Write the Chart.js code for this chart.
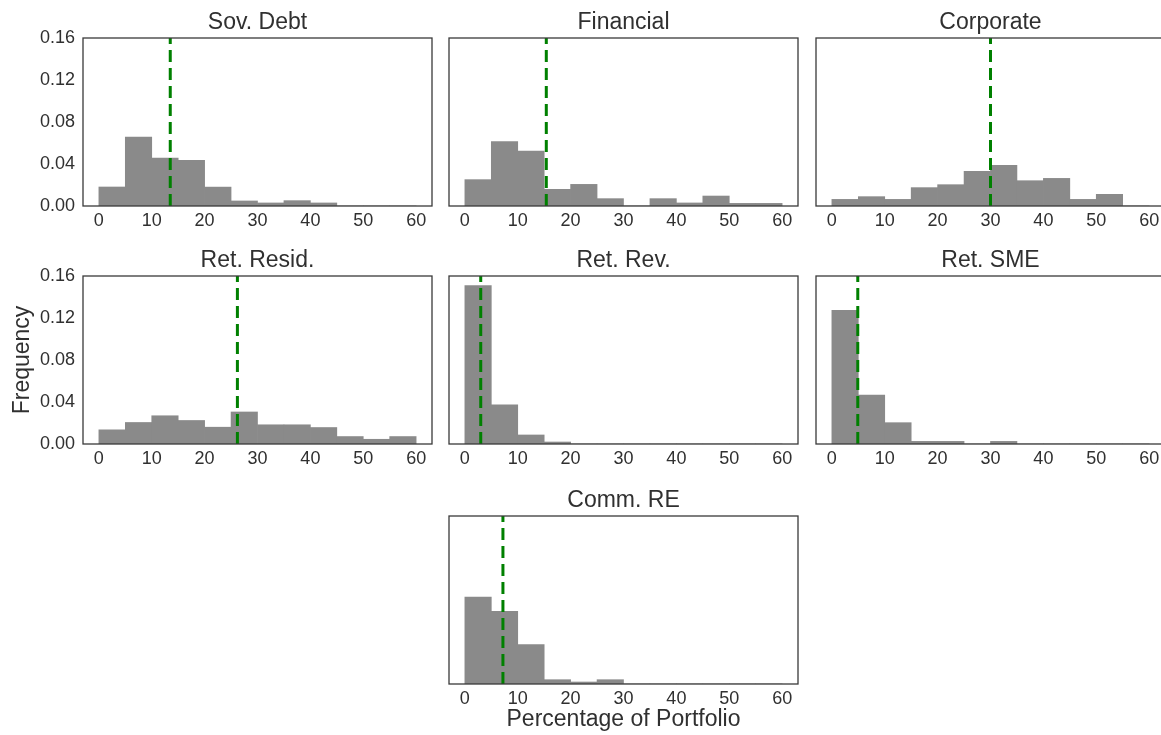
<!DOCTYPE html>
<html>
<head>
<meta charset="utf-8">
<script src="https://cdn.jsdelivr.net/npm/chart.js@4.4.1/dist/chart.umd.min.js"></script>
<style>
  html, body { margin: 0; padding: 0; background: #ffffff; }
  #fig { position: relative; width: 1161px; height: 735px; overflow: hidden; background: #ffffff; }
  #fig canvas { position: absolute; }
</style>
</head>
<body>
<div id="fig"></div>
<script>
// Histogram bins: 5-point wide bins from 0 to 60 (bin centres)
const BIN_CENTERS = [2.5, 7.5, 12.5, 17.5, 22.5, 27.5, 32.5, 37.5, 42.5, 47.5, 52.5, 57.5];
const X_TICKS = [0, 10, 20, 30, 40, 50, 60];
const Y_TICKS = [0, 0.04, 0.08, 0.12, 0.16];

const PANEL_TITLES = ['Sov. Debt', 'Financial', 'Corporate', 'Ret. Resid.', 'Ret. Rev.', 'Ret. SME', 'Comm. RE'];

// Density of each bin, per exposure class
const SOV_DEBT  = [0.0181, 0.0657, 0.0457, 0.0435, 0.0180, 0.0048, 0.0029, 0.0051, 0.0029, 0, 0, 0];
const FINANCIAL = [0.0251, 0.0613, 0.0524, 0.0159, 0.0206, 0.0070, 0, 0.0070, 0.0029, 0.0095, 0.0025, 0.0025];
const CORPORATE = [0.0063, 0.0089, 0.0063, 0.0175, 0.0203, 0.0330, 0.0387, 0.0241, 0.0263, 0.0063, 0.0111, 0];
const RET_RESID = [0.0135, 0.0205, 0.0269, 0.0224, 0.0160, 0.0305, 0.0183, 0.0183, 0.0157, 0.0071, 0.0045, 0.0071];
const RET_REV   = [0.1508, 0.0372, 0.0086, 0.0019, 0, 0, 0, 0, 0, 0, 0, 0];
const RET_SME   = [0.1273, 0.0467, 0.0203, 0.0025, 0.0025, 0, 0.0025, 0, 0, 0, 0, 0];
const COMM_RE   = [0.0827, 0.0693, 0.0375, 0.0041, 0.0019, 0.0041, 0, 0, 0, 0, 0, 0];

// Vertical dashed marker per class (average share of portfolio)
const MARKER_VALUES = [13.5, 15.4, 30.0, 26.2, 3.0, 4.9, 7.2];

const SERIES = [SOV_DEBT, FINANCIAL, CORPORATE, RET_RESID, RET_REV, RET_SME, COMM_RE];

// ---- layout of the 3x3 grid (row, column) ----
const CELLS = [[0, 0], [0, 1], [0, 2], [1, 0], [1, 1], [1, 2], [2, 1]];
const COL_LEFT = [83, 449, 816];
const ROW_TOP = [38, 276, 516];
const PLOT_W = 349, PLOT_H = 168;
const Y_AXIS_W = 83, TITLE_H = 30, X_AXIS_H = 34, X_AXIS_H_TITLED = 52, RIGHT_PAD = 8;

const FONT = "'Liberation Sans', Arial, 'DejaVu Sans', sans-serif";
const TEXT = '#303030';
const EDGE = '#3a3a3a';
const BAR = '#8a8a8a';
const MARK = '#008000';
const TICK_SIZE = 18;
const LABEL_SIZE = 23;

const framePlugin = {
  id: 'frame',
  afterDatasetsDraw(chart) {
    const { ctx, chartArea: a } = chart;
    ctx.save();
    ctx.strokeStyle = EDGE;
    ctx.lineWidth = 1.3;
    ctx.strokeRect(a.left, a.top, a.right - a.left, a.bottom - a.top);
    ctx.restore();
  }
};

const fig = document.getElementById('fig');

SERIES.forEach((values, i) => {
  const [row, col] = CELLS[i];
  const showY = col === 0;
  const yTitle = i === 3 ? 'Frequency' : '';
  const xTitle = i === 6 ? 'Percentage of Portfolio' : '';
  const xh = xTitle ? X_AXIS_H_TITLED : X_AXIS_H;

  const canvas = document.createElement('canvas');
  canvas.width = Y_AXIS_W + PLOT_W + RIGHT_PAD;
  canvas.height = TITLE_H + PLOT_H + xh;
  canvas.style.left = (COL_LEFT[col] - Y_AXIS_W) + 'px';
  canvas.style.top = (ROW_TOP[row] - TITLE_H) + 'px';
  fig.appendChild(canvas);

  const yMax = Y_TICKS[Y_TICKS.length - 1];

  new Chart(canvas, {
    type: 'bar',
    data: {
      datasets: [
        {
          type: 'line',
          data: [{ x: MARKER_VALUES[i], y: 0 }, { x: MARKER_VALUES[i], y: yMax }],
          borderColor: MARK,
          borderWidth: 3,
          borderDash: [12, 6],
          pointRadius: 0,
          fill: false,
          order: 1
        },
        {
          type: 'bar',
          data: BIN_CENTERS.map((x, k) => ({ x: x, y: values[k] })),
          backgroundColor: BAR,
          borderWidth: 0,
          barPercentage: 1,
          categoryPercentage: 1,
          order: 2
        }
      ]
    },
    options: {
      responsive: false,
      animation: false,
      events: [],
      layout: { padding: { left: 0, top: 0, bottom: 0, right: RIGHT_PAD } },
      plugins: {
        legend: { display: false },
        tooltip: { enabled: false },
        title: {
          display: true,
          text: PANEL_TITLES[i],
          fullSize: false,
          color: TEXT,
          font: { family: FONT, size: LABEL_SIZE, weight: 'normal', lineHeight: 1 },
          padding: { top: 3, bottom: 4 }
        }
      },
      scales: {
        x: {
          type: 'linear',
          min: -3,
          max: 63,
          offset: false,
          grid: { display: false, drawTicks: false },
          border: { display: false },
          afterBuildTicks: s => { s.ticks = X_TICKS.map(v => ({ value: v })); },
          afterFit: s => { s.height = xh; },
          ticks: {
            color: TEXT,
            font: { family: FONT, size: TICK_SIZE },
            padding: 4,
            maxRotation: 0,
            autoSkip: false
          },
          title: {
            display: !!xTitle,
            text: xTitle,
            color: TEXT,
            font: { family: FONT, size: LABEL_SIZE, lineHeight: 1 },
            padding: { top: 0, bottom: 5 }
          }
        },
        y: {
          type: 'linear',
          min: 0,
          max: yMax,
          grid: { display: false, drawTicks: false },
          border: { display: false },
          afterBuildTicks: s => { s.ticks = Y_TICKS.map(v => ({ value: v })); },
          afterFit: s => { s.width = Y_AXIS_W; },
          ticks: {
            display: showY,
            color: TEXT,
            font: { family: FONT, size: TICK_SIZE },
            padding: 8,
            callback: v => Number(v).toFixed(2)
          },
          title: {
            display: !!yTitle,
            text: yTitle,
            color: TEXT,
            font: { family: FONT, size: LABEL_SIZE, lineHeight: 1 },
            padding: { top: 11, bottom: 0 }
          }
        }
      }
    },
    plugins: [framePlugin]
  });
});
</script>
</body>
</html>
